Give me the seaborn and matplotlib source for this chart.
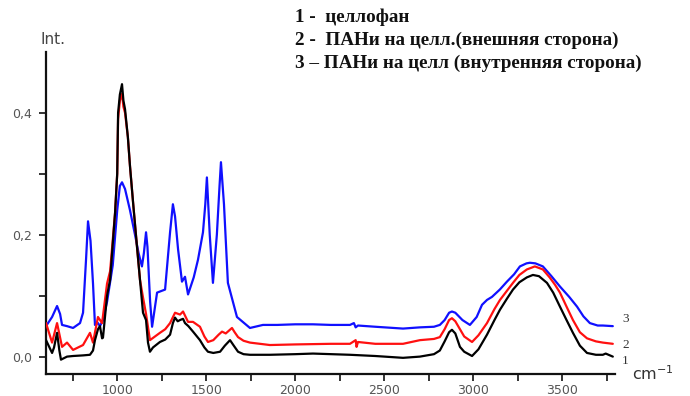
import numpy as np
import pandas as pd
import matplotlib
matplotlib.use("Agg")
import matplotlib.pyplot as plt
import seaborn as sns

# ---- data (wavenumber cm^-1, intensity) ----
wn_1 = [600, 634, 645, 662, 675, 684, 718, 752, 808, 847, 864, 875, 892, 903, 915, 920,
        943, 960, 988, 1000, 1005, 1015, 1027, 1035, 1044, 1060, 1072, 1090, 1111, 1128,
        1145, 1162, 1173, 1184, 1201, 1240, 1270, 1297, 1313, 1325, 1340, 1353, 1370, 1381,
        1400, 1426, 1465, 1490, 1510, 1540, 1578, 1605, 1634, 1655, 1679, 1710, 1746, 1858,
        2000, 2100, 2308, 2450, 2606, 2701, 2780, 2813, 2840, 2865, 2881, 2900, 2926, 2950,
        2994, 3030, 3078, 3120, 3151, 3190, 3224, 3260, 3302, 3336, 3370, 3415, 3450, 3488,
        3525, 3561, 3600, 3640, 3690, 3729, 3745, 3785]
int_1 = [0.027, 0.006, 0.015, 0.039, 0.010, -0.005, 0.000, 0.001, 0.002, 0.003, 0.010, 0.027,
         0.045, 0.050, 0.030, 0.031, 0.100, 0.126, 0.236, 0.300, 0.400, 0.430, 0.447, 0.420,
         0.406, 0.360, 0.312, 0.250, 0.181, 0.126, 0.072, 0.060, 0.023, 0.008, 0.015, 0.024,
         0.028, 0.036, 0.055, 0.064, 0.058, 0.060, 0.062, 0.055, 0.050, 0.041, 0.027, 0.015,
         0.008, 0.006, 0.008, 0.018, 0.027, 0.018, 0.008, 0.004, 0.003, 0.003, 0.004, 0.005,
         0.003, 0.001, -0.002, 0.000, 0.004, 0.010, 0.025, 0.040, 0.044, 0.038, 0.016, 0.008,
         0.001, 0.012, 0.036, 0.060, 0.077, 0.095, 0.110, 0.122, 0.130, 0.134, 0.132, 0.121,
         0.105, 0.082, 0.060, 0.039, 0.018, 0.006, 0.003, 0.003, 0.005, 0.000]

wn_2 = [600, 634, 662, 690, 718, 752, 808, 847, 864, 892, 915, 943, 960, 988, 1000, 1005,
        1015, 1027, 1035, 1044, 1060, 1072, 1090, 1111, 1128, 1145, 1162, 1184, 1240, 1270,
        1297, 1325, 1353, 1370, 1398, 1426, 1465, 1490, 1510, 1540, 1570, 1589, 1610, 1645,
        1660, 1679, 1710, 1746, 1858, 2000, 2200, 2308, 2340, 2345, 2353, 2450, 2606, 2701,
        2780, 2813, 2840, 2865, 2881, 2900, 2926, 2950, 2994, 3030, 3078, 3120, 3151, 3190,
        3224, 3260, 3302, 3347, 3392, 3430, 3460, 3488, 3525, 3561, 3600, 3640, 3690, 3729,
        3785]
int_2 = [0.055, 0.023, 0.055, 0.016, 0.023, 0.011, 0.019, 0.039, 0.023, 0.065, 0.055, 0.120,
         0.140, 0.236, 0.300, 0.390, 0.420, 0.431, 0.410, 0.400, 0.360, 0.312, 0.250, 0.181,
         0.126, 0.097, 0.070, 0.027, 0.039, 0.045, 0.055, 0.072, 0.069, 0.074, 0.057, 0.057,
         0.049, 0.033, 0.024, 0.027, 0.036, 0.041, 0.038, 0.047, 0.040, 0.032, 0.026, 0.023,
         0.019, 0.020, 0.021, 0.021, 0.027, 0.016, 0.024, 0.021, 0.021, 0.027, 0.029, 0.032,
         0.045, 0.060, 0.063, 0.058, 0.045, 0.033, 0.024, 0.035, 0.055, 0.078, 0.093, 0.108,
         0.121, 0.134, 0.143, 0.148, 0.143, 0.130, 0.118, 0.105, 0.082, 0.060, 0.040, 0.030,
         0.025, 0.023, 0.021]

wn_3 = [600, 634, 662, 679, 690, 718, 752, 791, 808, 825, 836, 850, 864, 875, 892, 903, 920,
        943, 975, 1000, 1015, 1027, 1044, 1072, 1100, 1120, 1139, 1150, 1162, 1170, 1185,
        1196, 1224, 1269, 1297, 1313, 1325, 1342, 1364, 1381, 1398, 1430, 1454, 1482, 1495,
        1504, 1520, 1538, 1560, 1575, 1583, 1600, 1622, 1673, 1746, 1819, 1900, 2000, 2100,
        2200, 2308, 2330, 2340, 2353, 2450, 2606, 2701, 2780, 2813, 2840, 2865, 2881, 2900,
        2940, 2982, 3020, 3050, 3078, 3106, 3150, 3190, 3230, 3263, 3300, 3319, 3350, 3392,
        3440, 3488, 3540, 3584, 3620, 3656, 3700, 3729, 3785]
int_3 = [0.050, 0.065, 0.083, 0.070, 0.052, 0.050, 0.047, 0.055, 0.072, 0.160, 0.222, 0.190,
         0.120, 0.052, 0.055, 0.050, 0.060, 0.090, 0.150, 0.240, 0.280, 0.286, 0.275, 0.240,
         0.200, 0.170, 0.148, 0.170, 0.204, 0.180, 0.090, 0.049, 0.105, 0.110, 0.204, 0.250,
         0.230, 0.176, 0.123, 0.131, 0.102, 0.130, 0.159, 0.204, 0.250, 0.294, 0.200, 0.121,
         0.200, 0.280, 0.319, 0.250, 0.121, 0.065, 0.047, 0.052, 0.052, 0.053, 0.053, 0.052,
         0.052, 0.055, 0.048, 0.051, 0.049, 0.046, 0.048, 0.049, 0.052, 0.060, 0.072, 0.074,
         0.072, 0.060, 0.052, 0.065, 0.085, 0.093, 0.098, 0.110, 0.123, 0.135, 0.148, 0.153,
         0.154, 0.153, 0.148, 0.132, 0.115, 0.098, 0.082, 0.066, 0.055, 0.051, 0.051, 0.050]

series_names = ["1", "2", "3"]
legend_lines = ["1 -  целлофан",
                "2 -  ПАНи на целл.(внешняя сторона)",
                "3 – ПАНи на целл (внутренняя сторона)"]
x_ticks = [1000, 1500, 2000, 2500, 3000, 3500]
y_ticks = [0.0, 0.2, 0.4]
y_tick_labels = ["0,0", "0,2", "0,4"]

df = pd.concat([
    pd.DataFrame({"wn": wn_1, "I": int_1, "s": "1"}),
    pd.DataFrame({"wn": wn_2, "I": int_2, "s": "2"}),
    pd.DataFrame({"wn": wn_3, "I": int_3, "s": "3"}),
])

sns.set_style("ticks")
plt.rcParams["font.family"] = ["DejaVu Sans"]

fig = plt.figure(figsize=(6.9, 3.96), dpi=100)
ax = fig.add_axes([0.0667, 0.0556, 0.8253, 0.8134])

sns.lineplot(data=df, x="wn", y="I", hue="s", estimator=None, sort=False,
             palette={"1": "#000000", "2": "#ff1010", "3": "#1010ff"},
             linewidth=1.6, legend=False, ax=ax)
for line, z in zip(ax.get_lines(), [5, 4, 3]):
    line.set_zorder(z)

ax.set_xlim(600, 3800)
ax.set_ylim(-0.0285, 0.5)
ax.set_xticks(x_ticks)
ax.set_xticks(np.arange(750, 3800, 500), minor=True)
ax.set_yticks(y_ticks)
ax.set_yticklabels(y_tick_labels)
ax.set_yticks([0.1, 0.3], minor=True)
ax.set_xlabel("")
ax.set_ylabel("")
for s in ["top", "right"]:
    ax.spines[s].set_visible(False)
for s in ["left", "bottom"]:
    ax.spines[s].set_linewidth(1.6)
    ax.spines[s].set_color("#111111")
ax.tick_params(which="both", direction="out", length=5, width=1.2, color="#111111",
               labelsize=9, labelcolor="#555555")
ax.tick_params(axis="x", which="both", pad=2)
ax.tick_params(axis="y", which="both", pad=5)

fig.text(40 / 690, 1 - 40 / 396, "Int.", fontsize=11, color="#444444", va="center", ha="left")
fig.text(632 / 690, 1 - 374 / 396, "cm$^{-1}$", fontsize=11.5, color="#333333",
         va="center", ha="left")

for lbl, ypx in zip(series_names[::-1], [319, 345, 361]):
    fig.text(622 / 690, 1 - ypx / 396, lbl, fontsize=9.5, family="Liberation Serif",
             color="#333333", va="center", ha="left")

for t, ypx in zip(legend_lines, [17, 40, 63]):
    fig.text(295 / 690, 1 - ypx / 396, t, fontsize=13.8, family="Liberation Serif",
             weight="bold", color="#111111", va="center", ha="left")

fig.savefig("out.png", dpi=100)
